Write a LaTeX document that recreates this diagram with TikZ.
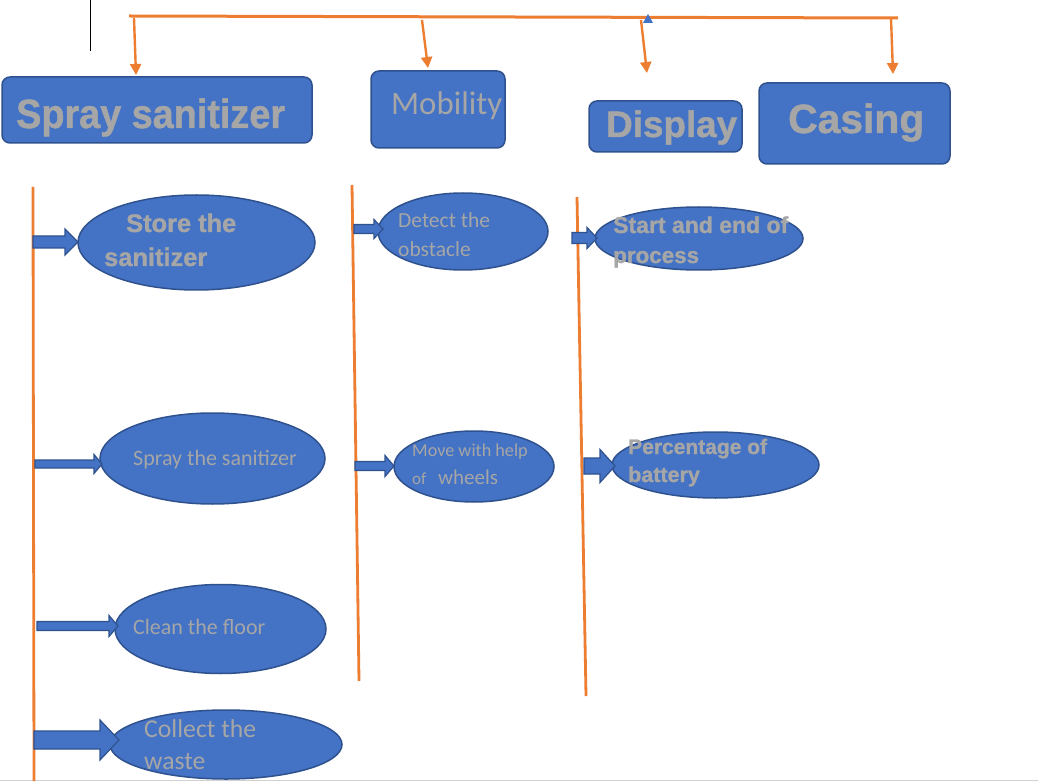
\documentclass[tikz,border=0pt]{standalone}
\usepackage{fontspec}
\usetikzlibrary{arrows.meta,shapes.geometric}
\newfontfamily\af{Liberation Sans}[BoldFeatures={FakeBold=1.2}]
\newfontfamily\cf{Carlito}
\definecolor{bluec}{HTML}{4472C4}
\definecolor{bordc}{HTML}{2F528F}
\definecolor{orc}{HTML}{ED7D31}
\definecolor{grayc}{HTML}{A6A6A6}
\newcommand\fsz[1]{\fontsize{#1pt}{#1pt}\selectfont}
% block arrow: x-start, head-start, tip, y, shaft half, head half
\newcommand\blkarrow[6]{%
  \draw[barrow] (#1,{#4-#5}) -- (#2,{#4-#5}) -- (#2,{#4-#6}) -- (#3,#4) -- (#2,{#4+#6}) -- (#2,{#4+#5}) -- (#1,{#4+#5}) -- cycle;}
\begin{document}
\begin{tikzpicture}[x=1pt,y=-1pt,
  boxn/.style={draw=bordc, fill=bluec, rounded corners=8pt, line width=1.5pt, inner sep=0pt, rectangle},
  elln/.style={ellipse, draw=bordc, fill=bluec, line width=1.5pt, inner sep=0pt},
  barrow/.style={draw=bordc, fill=bluec, line width=1.2pt, line join=miter},
  txt/.style={text=grayc, inner sep=0pt, anchor=base west},
  bt/.style={txt, font=\af\bfseries\fsz{#1}},
  rt/.style={txt, font=\cf\fsz{#1}},
  orline/.style={draw=orc, line width=2.8pt},
  orarrow/.style={draw=orc, line width=2.4pt, -{Triangle[length=11pt,width=11pt]}}
]
\useasboundingbox (0,0) rectangle (1038,783);
\fill[white] (0,0) rectangle (1038,783);

% bottom page edge
\draw[black!18, line width=1.2pt] (0,780.5) -- (1038,780.5);
% black short line
\coordinate (bl1) at (90,0);
\coordinate (bl2) at (90,51);
\draw[black, line width=1pt] (bl1) -- (bl2);

% top orange line
\coordinate (tl) at (129,16);
\coordinate (tr) at (898,18);
\draw[orline, line width=3pt] (tl) -- (tr);
\coordinate (s1) at (134,18);  \coordinate (e1) at (136,75);
\coordinate (s2) at (422,20);  \coordinate (e2) at (428,68);
\coordinate (s3) at (641,20);  \coordinate (e3) at (647,73);
\coordinate (s4) at (891,18);  \coordinate (e4) at (893,74);
\draw[orarrow] (s1) -- (e1);
\draw[orarrow] (s2) -- (e2);
\draw[orarrow] (s3) -- (e3);
\draw[orarrow] (s4) -- (e4);
\coordinate (mk) at (648,14);
\fill[bluec] (mk) -- (643,23) -- (653,23) -- cycle;

% header boxes
\node[boxn, minimum width=310pt, minimum height=66pt] (sprayb) at (157,110) {};
\node[boxn, minimum width=134pt, minimum height=77pt] (mobb) at (438,109.5) {};
\node[boxn, minimum width=153pt, minimum height=51pt] (dispb) at (665.5,126.5) {};
\node[boxn, minimum width=191pt, minimum height=81pt] (casb) at (854.5,123.5) {};
\node[bt=37.8] (sprayt) at (16,128) {\scalebox{1}[1.08]{Spray sanitizer}};
\node[rt=32.8] (mobt) at (391,115) {Mobility};
\node[bt=36.8] (dispt) at (606,137) {Display};
\node[bt=40.8] (cast) at (788,133) {Casing};

% vertical lines
\coordinate (v1a) at (33,187);  \coordinate (v1b) at (34,781);
\coordinate (v2a) at (352,185); \coordinate (v2b) at (359,681);
\coordinate (v3a) at (577,197); \coordinate (v3b) at (586,696);
\draw[orline] (v1a) -- (v1b);
\draw[orline] (v2a) -- (v2b);
\draw[orline] (v3a) -- (v3b);

% ellipses
\node[elln, minimum width=237pt, minimum height=95pt] (store) at (196.5,242.5) {};
\node[elln, minimum width=225pt, minimum height=91pt] (spray) at (212.5,458.5) {};
\node[elln, minimum width=211pt, minimum height=89pt] (clean) at (220.5,629) {};
\node[elln, minimum width=232pt, minimum height=69pt] (collect) at (226,744.5) {};
\node[elln, minimum width=170pt, minimum height=77pt] (detect) at (463,231.5) {};
\node[elln, minimum width=160pt, minimum height=71pt] (move) at (474,466.5) {};
\node[elln, minimum width=208pt, minimum height=63pt] (start) at (699,238.5) {};
\node[elln, minimum width=207pt, minimum height=66pt] (perc) at (715.5,465) {};

% block arrows
\blkarrow{33}{65}{78}{242}{6}{13}
\blkarrow{35}{94}{102}{464}{4}{9.5}
\blkarrow{37}{109}{118}{626}{4.5}{10.5}
\blkarrow{34}{100}{119}{740}{9}{20}
\blkarrow{354}{374}{383}{229}{4.5}{9.5}
\blkarrow{355}{385}{394}{466}{4.5}{10.5}
\blkarrow{572}{587}{597}{238}{5.5}{10.5}
\blkarrow{584}{600}{615}{466}{8}{16.5}

% ellipse texts
\node[bt=25.4] (st1) at (126,232) {Store the};
\node[bt=25.4] (st2) at (104,266) {sanitizer};
\node[rt=22] (sp1) at (133,465) {Spray the sanitizer};
\node[rt=22] (cl1) at (133,634) {Clean the floor};
\node[rt=25.7] (co1) at (144,737) {Collect the};
\node[rt=25.7] (co2) at (144,769) {waste};
\node[rt=21.5] (de1) at (398,228) {Detect the};
\node[rt=21.5] (de2) at (398,257) {obstacle};
\node[rt=18.2] (mo1) at (412,456) {Move with help};
\node[rt=17] (mo2) at (412,484) {of};
\node[rt=21] (mo3) at (438,484) {wheels};
\node[bt=23] (sa1) at (613,233) {Start and end of};
\node[bt=22.4] (sa2) at (613,263) {process};
\node[bt=21] (pe1) at (628,454) {Percentage of};
\node[bt=21.5] (pe2) at (628,482) {battery};
\end{tikzpicture}
\end{document}
